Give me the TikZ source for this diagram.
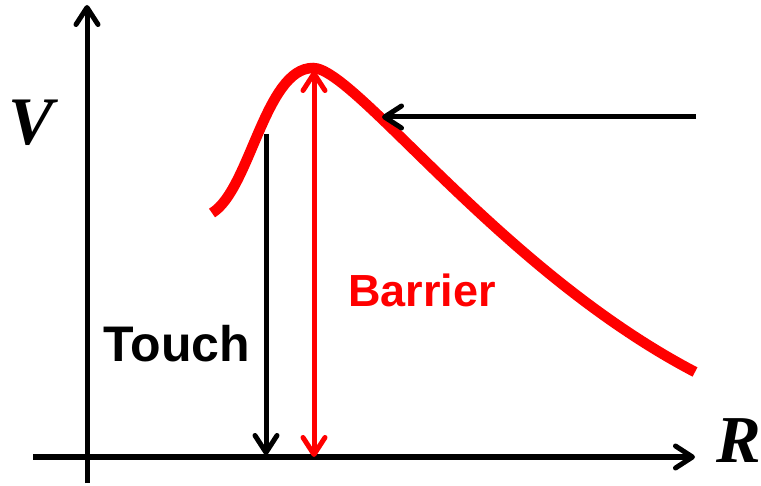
\documentclass[tikz,border=0pt]{standalone}
\usepackage{fontspec}
\setmainfont{Liberation Sans}
\newfontfamily\axisfont{Liberation Serif}
\usetikzlibrary{arrows.meta, positioning}

\begin{document}
\begin{tikzpicture}[x=1pt, y=-1pt, line width=5pt,
    >={Straight Barb[length=17pt, width=22pt, round]}]
    \useasboundingbox (0,0) rectangle (761,486);
    % Trục tọa độ
    \coordinate (vbot) at (87,483);
    \coordinate (vtop) at (87,5);
    \coordinate (hleft) at (33,457);
    \coordinate (hright) at (695,457);
    \draw[->] (vbot) -- (vtop);
    \draw[->] (hleft) -- (hright);

    % Nhãn trục
    \node[font=\axisfont\bfseries\itshape\fontsize{68}{68}\selectfont, anchor=base, inner sep=0] (V) at (31,145) {V};
    \node[font=\axisfont\bfseries\itshape\fontsize{67}{67}\selectfont, anchor=base, inner sep=0] (R) at (739,462) {R};

    % Mũi tên chạm
    \coordinate (touchtop) at (266,134);
    \coordinate (touchfoot) at (266,455);
    \draw[->] (touchtop) -- (touchfoot);

    % Đường cong thế năng
    \coordinate (start) at (212,213);
    \coordinate (peak) at (313,68);
    \coordinate (tail) at (695,372);
    \draw[red, line width=10.5pt] (start) .. controls (250,190) and (265,68) .. (peak)
        .. controls (355,68) and (500,270) .. (tail);

    % Chiều cao rào thế
    \coordinate (bartop) at (314,71);
    \coordinate (barfoot) at (314,457);
    \draw[red, <->] (bartop) -- (barfoot);

    % Mũi tên tới
    \coordinate (incoming) at (696,117);
    \coordinate (hit) at (382,117);
    \draw[->] (incoming) -- (hit);

    % Ghi chú
    \node[font=\bfseries\fontsize{50}{50}\selectfont, anchor=base, inner sep=0] (touch) at (177,362) {Touch};
    \node[font=\bfseries\fontsize{45}{45}\selectfont, text=red, anchor=base, inner sep=0] (barrier) at (422,307) {Barrier};
\end{tikzpicture}
\end{document}
